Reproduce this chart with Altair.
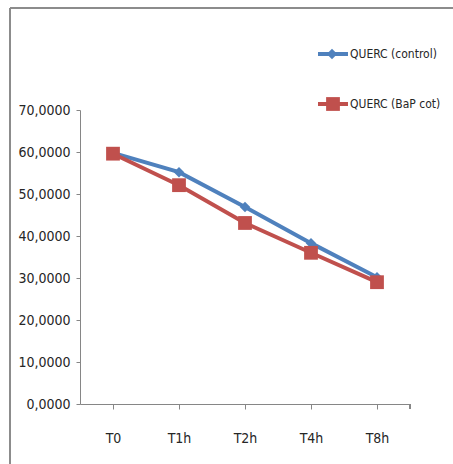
import altair as alt
import pandas as pd

# Time points and measured values for each series
times = ["T0", "T1h", "T2h", "T4h", "T8h"]
control = [59.8, 55.2, 46.9, 38.3, 30.2]
bap_cot = [59.6, 52.1, 43.1, 36.0, 29.0]
series_names = ["QUERC (control)", "QUERC (BaP cot)"]
colors = ["#4F81BD", "#C0504D"]
y_ticks = [0, 10, 20, 30, 40, 50, 60, 70]

FONT = "DejaVu Sans Condensed"
W, H = 330, 294

df = pd.DataFrame(
    {"time": times * 2,
     "value": control + bap_cot,
     "series": [series_names[0]] * len(times) + [series_names[1]] * len(times)}
)

x_enc = alt.X(
    "time:N", sort=times, title=None,
    scale=alt.Scale(paddingInner=0, paddingOuter=0),
    axis=alt.Axis(bandPosition=0, labelAngle=0, labelPadding=22, tickSize=5,
                  domainColor="#868686", tickColor="#868686", labelColor="#262626",
                  labelFont=FONT, labelFontSize=14, grid=False),
)
y_enc = alt.Y(
    "value:Q", title=None,
    scale=alt.Scale(domain=[0, 70], nice=False),
    axis=alt.Axis(values=y_ticks, tickSize=4, labelPadding=6,
                  labelExpr="replace(format(datum.value, '.4f'), '.', ',')",
                  domainColor="#868686", tickColor="#868686", labelColor="#262626",
                  labelFont=FONT, labelFontSize=14, grid=False),
)
color_enc = alt.Color("series:N", scale=alt.Scale(domain=series_names, range=colors), legend=None)

base = alt.Chart(df).encode(x=x_enc, y=y_enc, color=color_enc)

lines = base.mark_line(strokeWidth=4, clip=False)

ctrl_pts = alt.Chart(df[df.series == series_names[0]]).mark_point(
    shape="diamond", filled=True, size=110, opacity=1, clip=False
).encode(x=alt.X("time:N", sort=times), y="value:Q", color=color_enc)

bap_pts = alt.Chart(df[df.series == series_names[1]]).mark_square(
    size=190, opacity=1, clip=False
).encode(x=alt.X("time:N", sort=times), y="value:Q", color=color_enc)

# closing tick at the right end of the category axis
end_tick = alt.Chart(df).mark_rule(color="#868686").encode(
    x=alt.value(W), y=alt.value(H), y2=alt.value(H + 5)
)

# outer frame (top and left edges)
frame_top = alt.Chart(df).mark_rule(color="#8c8c8c", strokeWidth=2, clip=False).encode(
    x=alt.value(-70), x2=alt.value(W + 50), y=alt.value(-102)
)
frame_left = alt.Chart(df).mark_rule(color="#8c8c8c", strokeWidth=1.5, clip=False).encode(
    x=alt.value(-70), y=alt.value(-102), y2=alt.value(H + 70)
)

# legend block in the top-right corner
leg = pd.DataFrame({"series": series_names, "yy": [-56, -6]})
leg_line = alt.Chart(leg).mark_rule(strokeWidth=4, clip=False).encode(
    x=alt.value(238), x2=alt.value(268), y=alt.Y("yy:Q", scale=None), color=color_enc
)
leg_ctrl = alt.Chart(leg[leg.series == series_names[0]]).mark_point(
    shape="diamond", filled=True, size=110, opacity=1, clip=False
).encode(x=alt.value(252), y=alt.Y("yy:Q", scale=None), color=color_enc)
leg_bap = alt.Chart(leg[leg.series == series_names[1]]).mark_square(
    size=190, opacity=1, clip=False
).encode(x=alt.value(253), y=alt.Y("yy:Q", scale=None), color=color_enc)
leg_text = alt.Chart(leg).mark_text(
    align="left", baseline="middle", font=FONT, fontSize=12, color="#262626", clip=False
).encode(x=alt.value(270), y=alt.Y("yy:Q", scale=None), text="series:N")

chart = alt.layer(
    frame_top, frame_left, lines, ctrl_pts, bap_pts, end_tick,
    leg_line, leg_ctrl, leg_bap, leg_text
).properties(
    width=W, height=H,
    autosize=alt.AutoSizeParams(type="none"),
    padding={"left": 80, "top": 110, "right": 43, "bottom": 60},
    background="white",
).configure_view(stroke=None)

chart.save("out.html", embed_options={"renderer": "svg", "actions": False})
